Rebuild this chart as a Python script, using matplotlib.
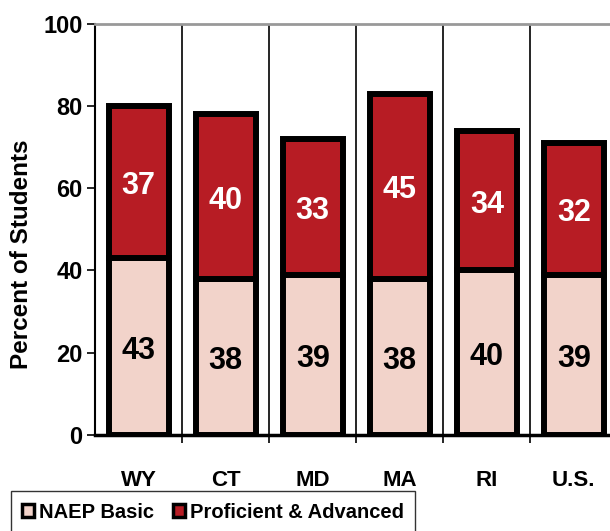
import matplotlib
matplotlib.use('Agg')
import matplotlib.pyplot as plt
import numpy as np
from matplotlib.patches import Patch

plt.rcParams['font.family'] = ['Liberation Sans Narrow', 'Liberation Sans', 'DejaVu Sans']
plt.rcParams['font.weight'] = 'bold'

states = ['WY', 'CT', 'MD', 'MA', 'RI', 'U.S.']
basic = [43, 38, 39, 38, 40, 39]
proficient = [37, 40, 33, 45, 34, 32]

basic_color = '#F2D3CA'
prof_color = '#B71C24'

fig = plt.figure(figsize=(6.1, 5.31), dpi=100)
ax = fig.add_axes([0.156, 0.181, 0.856, 0.774])

x = np.arange(len(states))
bw = 0.69
ax.bar(x, basic, width=bw, color=basic_color, edgecolor='black', linewidth=4.3, zorder=3)
ax.bar(x, proficient, width=bw, bottom=basic, color=prof_color, edgecolor='black',
       linewidth=4.3, zorder=3)

for i in range(len(states)):
    ax.text(x[i], basic[i] / 2 - 1, str(basic[i]), ha='center', va='center',
            fontsize=22, fontweight='bold', color='black', zorder=4)
    ax.text(x[i], basic[i] + proficient[i] / 2 - 1, str(proficient[i]), ha='center',
            va='center', fontsize=22, fontweight='bold', color='white', zorder=4)

ax.set_xlim(-0.5, len(states) - 0.5)
ax.set_ylim(0, 100)
ax.set_yticks([0, 20, 40, 60, 80, 100])
ax.tick_params(axis='y', labelsize=17, length=6, width=1.2, direction='out', pad=3)

ax.set_xticks(x)
ax.set_xticklabels(states)
ax.tick_params(axis='x', which='major', length=0, labelsize=16, pad=25)
ax.set_xticks(np.arange(0.5, len(states) - 0.5, 1), minor=True)
ax.tick_params(axis='x', which='minor', length=6, width=1.2, direction='out')
ax.grid(axis='x', which='minor', color='black', linewidth=1.2, zorder=1)

ax.spines['top'].set_color('#999999')
ax.spines['top'].set_linewidth(2)
ax.spines['right'].set_visible(False)
ax.spines['left'].set_linewidth(1.5)
ax.spines['bottom'].set_linewidth(2.5)

ax.set_ylabel('Percent of Students', fontsize=17.5, fontweight='bold')
ax.yaxis.set_label_coords(-0.12, 0.44)

handles = [Patch(facecolor=basic_color, edgecolor='black', linewidth=2.5, label='NAEP Basic'),
           Patch(facecolor=prof_color, edgecolor='black', linewidth=2.5, label='Proficient & Advanced')]
fig.legend(handles=handles, loc='lower left', bbox_to_anchor=(0.002, -0.022), ncol=2,
           fontsize=14.5, frameon=True, fancybox=False, edgecolor='black',
           handlelength=0.6, handleheight=0.6, handletextpad=0.25, columnspacing=0.9,
           borderpad=0.55)

fig.savefig('out.png', dpi=100)
